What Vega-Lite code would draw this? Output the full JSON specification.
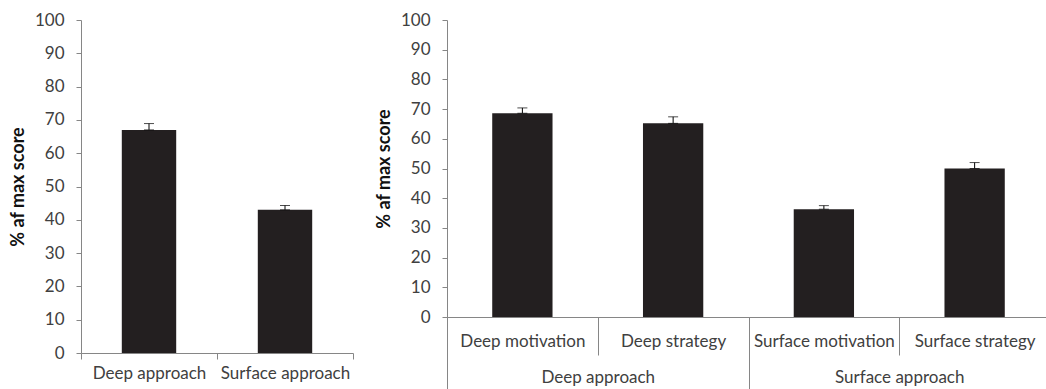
{
  "$schema": "https://vega.github.io/schema/vega-lite/v6.json",
  "background": "white",
  "padding": {"left": 9, "top": 11, "right": 0, "bottom": 0},
  "spacing": 21,
  "config": {
    "view": {"stroke": null},
    "font": "Lato",
    "axis": {
      "grid": false,
      "domainColor": "#868686",
      "tickColor": "#868686",
      "labelColor": "#404040",
      "labelFont": "Lato",
      "labelFontSize": 17,
      "titleFont": "Lato",
      "titleFontSize": 18,
      "titleFontWeight": "bold",
      "titleColor": "#111111"
    },
    "axisY": {"labelOverlap": false, "labelBound": false, "labelSeparation": 0}
  },
  "hconcat": [
    {
      "width": 272,
      "height": 333,
      "data": {"values": [
        {"approach": "Deep approach", "score": 67, "upper": 68.9},
        {"approach": "Surface approach", "score": 43, "upper": 44.3}
      ]},
      "encoding": {
        "x": {"field": "approach", "type": "nominal", "sort": null,
          "scale": {"paddingInner": 0, "paddingOuter": 0},
          "axis": {"title": null, "labelAngle": 0, "tickBand": "extent", "tickSize": 6, "labelPadding": 6}},
        "y": {"field": "score", "type": "quantitative",
          "scale": {"domain": [0, 100], "nice": false},
          "axis": {"title": "% af max score", "labelOverlap": false, "values": [0,10,20,30,40,50,60,70,80,90,100], "tickSize": 5, "labelPadding": 12, "titlePadding": 7}}
      },
      "layer": [
        {"mark": {"type": "bar", "color": "#231f20", "width": {"band": 0.4}}},
        {"mark": {"type": "errorbar", "color": "#000000", "ticks": {"size": 10, "thickness": 1, "color": "#000000"}, "rule": {"strokeWidth": 1}},
         "encoding": {"y2": {"field": "upper"}}}
      ]
    },
    {
      "width": 603,
      "height": 297,
      "data": {"values": [
        {"group": "Deep approach", "sub": "Deep motivation", "score": 68.6, "upper": 70.4},
        {"group": "Deep approach", "sub": "Deep strategy", "score": 65.2, "upper": 67.4},
        {"group": "Surface approach", "sub": "Surface motivation", "score": 36.3, "upper": 37.5},
        {"group": "Surface approach", "sub": "Surface strategy", "score": 50, "upper": 52}
      ]},
      "encoding": {
        "y": {"field": "score", "type": "quantitative",
          "scale": {"domain": [0, 100], "nice": false},
          "axis": {"title": "% af max score", "labelOverlap": false, "values": [0,10,20,30,40,50,60,70,80,90,100], "tickSize": 5, "labelPadding": 12, "titlePadding": 7}}
      },
      "layer": [
        {
          "encoding": {
            "x": {"field": "sub", "type": "nominal", "sort": null,
              "scale": {"paddingInner": 0, "paddingOuter": 0},
              "axis": {"title": null, "labelAngle": 0, "tickBand": "extent", "tickSize": 38, "labelPadding": -22}}
          },
          "layer": [
            {"mark": {"type": "bar", "color": "#231f20", "width": {"band": 0.4}}},
            {"mark": {"type": "errorbar", "color": "#000000", "ticks": {"size": 10, "thickness": 1, "color": "#000000"}, "rule": {"strokeWidth": 1}},
             "encoding": {"y2": {"field": "upper"}}}
          ]
        },
        {
          "mark": {"type": "rule", "strokeOpacity": 0},
          "encoding": {
            "y": {"datum": 0, "type": "quantitative"},
            "x": {"field": "group", "type": "nominal", "sort": null,
              "scale": {"paddingInner": 0, "paddingOuter": 0},
              "axis": {"title": null, "orient": "bottom", "domain": false, "labelAngle": 0, "tickBand": "extent", "tickSize": 75, "labelPadding": -23}}
          }
        }
      ],
      "resolve": {"scale": {"x": "independent"}, "axis": {"x": "independent"}}
    }
  ]
}
